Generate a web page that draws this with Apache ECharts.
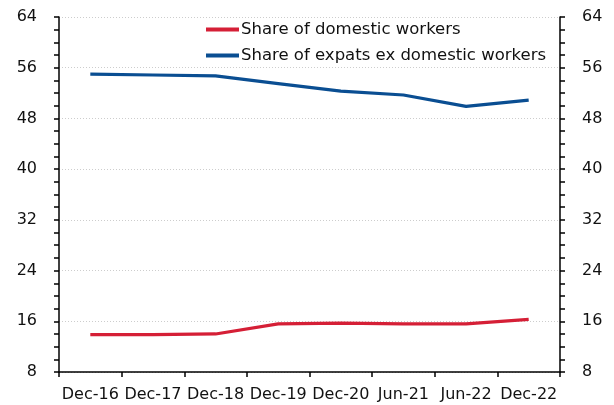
<!DOCTYPE html>
<html><head><meta charset="utf-8">
<script src="https://cdn.jsdelivr.net/npm/echarts@6/dist/echarts.min.js"></script>
<style>html,body{margin:0;padding:0;background:#fff}#c{width:614px;height:405px}</style>
</head><body><div id="c"></div>
<script>
var categories = ['Dec-16','Dec-17','Dec-18','Dec-19','Dec-20','Jun-21','Jun-22','Dec-22'];
var domestic = [13.9, 13.9, 14.0, 15.6, 15.7, 15.6, 15.6, 16.3];
var expats = [55.0, 54.85, 54.7, 53.5, 52.3, 51.7, 49.9, 50.9];
var seriesNames = ['Share of domestic workers', 'Share of expats ex domestic workers'];
var yMin = 8, yMax = 64, yStep = 8;

var font = 'DejaVu Sans, Verdana, sans-serif';
function yAxis(pos, showGrid) {
  return {
    type: 'value', position: pos, min: yMin, max: yMax, interval: yStep,
    axisLine: {show: true, lineStyle: {color: '#000', width: 1.5}},
    axisTick: {show: true, inside: false, length: 5, lineStyle: {color: '#000', width: 1.5}},
    minorTick: {show: true, splitNumber: 4, length: 5, lineStyle: {color: '#000', width: 1.5}},
    axisLabel: {color: '#111', fontSize: 16, fontFamily: font, margin: 22},
    splitLine: {show: showGrid, lineStyle: {color: '#cdcdcd', type: [1, 2], width: 1}}
  };
}
var chart = echarts.init(document.getElementById('c'));
chart.setOption({
  animation: false,
  grid: {left: 59, right: 54, top: 17, bottom: 33, containLabel: false},
  legend: {
    orient: 'vertical', left: 201, top: 16, itemWidth: 33, itemHeight: 4, itemGap: 9,
    icon: 'rect',
    textStyle: {color: '#111', fontSize: 16.5, fontFamily: font, padding: [0,0,0,-3]},
    data: seriesNames
  },
  xAxis: {
    type: 'category', data: categories, boundaryGap: true,
    axisLine: {lineStyle: {color: '#000', width: 1.5}},
    axisTick: {show: true, length: 5, lineStyle: {color: '#000', width: 1.5}},
    axisLabel: {color: '#111', fontSize: 16, fontFamily: font, margin: 15, interval: 0}
  },
  yAxis: [yAxis('left', true), yAxis('right', false)],
  series: [
    {name: seriesNames[0], type: 'line', data: domestic, symbol: 'none',
     lineStyle: {color: '#d51f36', width: 3.2}, itemStyle: {color: '#d51f36'}},
    {name: seriesNames[1], type: 'line', data: expats, symbol: 'none',
     lineStyle: {color: '#0a4e92', width: 3.2}, itemStyle: {color: '#0a4e92'}}
  ]
});
</script></body></html>
